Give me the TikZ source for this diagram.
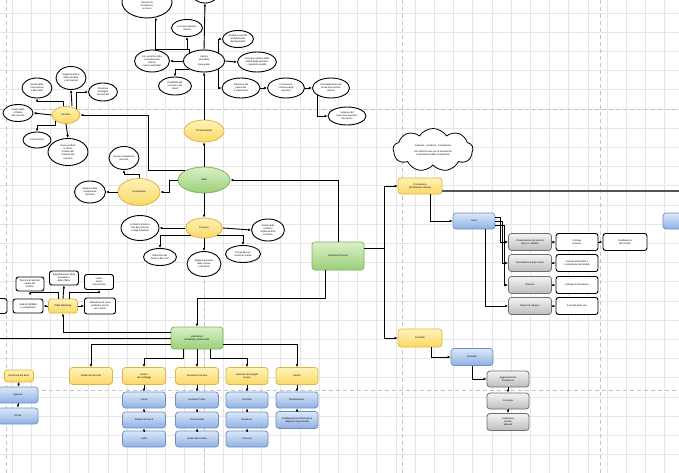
\documentclass[tikz,border=0pt]{standalone}
\usepackage{fontspec}
\setmainfont{Liberation Sans}
\usepackage{tikz}
\usetikzlibrary{shapes.geometric,shapes.symbols,arrows.meta}

\definecolor{ytop}{HTML}{FFF3B8}
\definecolor{ybot}{HTML}{FAD866}
\definecolor{yline}{HTML}{E0B443}
\definecolor{gtop}{HTML}{D9F0C8}
\definecolor{gbot}{HTML}{9BCF78}
\definecolor{gline}{HTML}{7DB35B}
\definecolor{btop}{HTML}{DCE8F8}
\definecolor{bbot}{HTML}{8EB0E3}
\definecolor{bline}{HTML}{6B8FC7}
\definecolor{stop}{HTML}{F4F4F4}
\definecolor{sbot}{HTML}{BDBDBD}
\definecolor{sline}{HTML}{6E6E6E}
\definecolor{gridc}{HTML}{E6E6E6}
\definecolor{pagec}{HTML}{C4C4C4}
\definecolor{barc}{HTML}{555555}

\tikzset{
  txt/.style={font=\fontsize{2.4}{3.1}\selectfont, align=center, inner sep=0pt},
  bubble/.style={txt, ellipse, draw, line width=0.9pt, fill=white},
  hub/.style={txt, ellipse, draw=yline, line width=0.8pt, top color=ytop, bottom color=ybot},
  core/.style={txt, ellipse, draw=gline, line width=0.8pt, top color=gtop, bottom color=gbot},
  ybox/.style={txt, rounded corners=3pt, draw=yline, line width=0.7pt, top color=ytop, bottom color=ybot, minimum width=43pt, minimum height=17pt},
  gbox/.style={txt, rounded corners=3pt, draw=gline, line width=0.7pt, top color=gtop, bottom color=gbot},
  bbox/.style={txt, rounded corners=3pt, draw=bline, line width=0.7pt, top color=btop, bottom color=bbot, minimum width=43pt, minimum height=16pt},
  sbox/.style={txt, rounded corners=3pt, draw=sline, line width=0.8pt, top color=stop, bottom color=sbot, minimum width=43pt, minimum height=17pt},
  wbox/.style={txt, rounded corners=2.5pt, draw, line width=0.9pt, fill=white, minimum width=42pt, minimum height=17pt},
  link/.style={line width=0.9pt, -{Latex[length=3pt,width=2.6pt]}},
  wire/.style={line width=0.9pt},
  gridline/.style={gridc, line width=0.5pt},
  pageline/.style={pagec, line width=0.8pt, dash pattern=on 4pt off 3pt}
}

\begin{document}
\begin{tikzpicture}[x=1pt,y=-1pt]

\useasboundingbox (0,0) rectangle (679,473);
\clip (0,0) rectangle (679,473);
\fill[white] (0,0) rectangle (679,473);

\foreach \gx in {11.8,31,...,679} \draw[gridline] (\gx,0) -- (\gx,473);
\foreach \gy in {12.8,32,...,473} \draw[gridline] (0,\gy) -- (679,\gy);

\foreach \px in {6,204,402,600} \draw[pageline] (\px,0) -- (\px,473);
\foreach \py in {109,390} \draw[pageline] (0,\py) -- (679,\py);



\node (sede) at (204,180) [core, minimum width=52pt, minimum height=26pt] {Sede};
\node (prof) at (204,131) [hub, minimum width=40pt, minimum height=22pt] {Professionalità};
\node (merc) at (66,115) [hub, minimum width=28pt, minimum height=17pt] {Mercato};
\node (comp) at (139,192) [hub, minimum width=42pt, minimum height=27pt] {Competenze};
\node (proc) at (204,228) [hub, minimum width=37pt, minimum height=20pt] {Processi};



\node (riun) at (147,2) [bubble, minimum width=50pt, minimum height=32pt] {};
\node (riunt) at (147,6) [txt] {Riunioni di\\formazione\\sul ruolo};
\node (vert) at (205,-8) [bubble, minimum width=28pt, minimum height=22pt] {};
\node (cult) at (204,61) [bubble, minimum width=41pt, minimum height=22pt] {Cultura\\aziendale\\[1.5pt]linee guida};
\node (prat) at (187,28) [bubble, minimum width=31pt, minimum height=17pt] {Le buone pratiche\\interne};
\node (comu) at (152,61) [bubble, minimum width=35pt, minimum height=22pt] {Uso pratiche nella\\comunicazione\\interna\\cultura aziendale};
\node (cred) at (175,86) [bubble, minimum width=33pt, minimum height=18pt] {Credibilità del\\mercato e dei\\clienti};
\node (qual) at (238,39) [bubble, minimum width=31pt, minimum height=17pt] {Qualità e crescita\\professionale\\dei dipendenti};
\node (cres) at (257,62) [bubble, minimum width=39pt, minimum height=20pt] {Crescita continua delle\\abilità degli operatori\\e gestione qualità};
\node (sele) at (241,88) [bubble, minimum width=38pt, minimum height=20pt] {Selezione del\\personale\\e valutazione};
\node (fcon) at (286,88) [bubble, minimum width=37pt, minimum height=20pt] {Formazione\\continua degli\\operatori};
\node (know) at (331,88) [bubble, minimum width=37pt, minimum height=20pt] {Consolidamento del\\know-how tecnico\\interno};
\node (spec) at (347,116) [bubble, minimum width=38pt, minimum height=18pt] {Sviluppo del\\know-how specifico\\dei servizi};



\node (conc) at (37,88) [bubble, minimum width=30pt, minimum height=20pt] {Analisi della\\concorrenza\\e dei prezzi};
\node (segm) at (71,78) [bubble, minimum width=30pt, minimum height=23pt] {Segmentazione\\della clientela\\e dei mercati};
\node (posi) at (103,92) [bubble, minimum width=29pt, minimum height=18pt] {Posizione\\strategica\\sul mercato};
\node (rich) at (18,113) [bubble, minimum width=30pt, minimum height=17pt] {Analisi della\\richiesta\\del mercato};
\node (cncr) at (37,140) [bubble, minimum width=28pt, minimum height=16pt] {Concorrenza};
\node (nuov) at (68,152) [bubble, minimum width=40pt, minimum height=27pt] {Nuovi prodotti\\e servizi\\in base alle\\richieste del\\mercato};

\node (ntec) at (124,158) [bubble, minimum width=30pt, minimum height=23pt] {Nuove competenze\\tecniche};
\node (svil) at (90,192) [bubble, minimum width=31pt, minimum height=22pt] {Sviluppo delle\\competenze\\del team};

\node (ctrl) at (140,228) [bubble, minimum width=38pt, minimum height=25pt] {Controllo di tutte le\\fasi dei processi\\e degli standard};
\node (crit) at (268,230) [bubble, minimum width=33pt, minimum height=22pt] {Analisi delle\\criticità e\\miglioramento\\continuo};
\node (ridu) at (160,257) [bubble, minimum width=33pt, minimum height=17pt] {Riduzione dei\\tempi e dei costi};
\node (riso) at (204,264) [bubble, minimum width=34pt, minimum height=25pt] {Migliore gestione\\delle risorse\\e dei flussi};
\node (serv) at (243,254) [bubble, minimum width=35pt, minimum height=17pt] {Più qualità nei\\servizi al cliente};



\node (gest) at (338,256) [gbox, minimum width=52pt, minimum height=28pt] {Gestione Processi};
\node (lab) at (197,338) [gbox, minimum width=52pt, minimum height=22pt] {Laboratorio\\Modelling commerciale};

\node (nota) at (433,150) [txt, cloud, draw, fill=white, line width=0.8pt, cloud puffs=9, cloud puff arc=115, aspect=1.9, minimum width=80pt, minimum height=43pt] {Gestione - Gestione - Formazione\\[3pt]Uso dell'Accesso per la formazione\\e valutazione delle competenze};

\node (form) at (420,186) [ybox, minimum width=44pt, minimum height=16pt] {Formazione\\(Produzione interna)};
\node (linee) at (474,221) [bbox, minimum width=42pt] {Linee};
\node (rblu) at (689,221) [bbox, minimum width=52pt] {};
\coordinate (frig) at (690,191);

\node (pia) at (530,242) [sbox] {Presentazione dei piani di\\lavoro e obiettivi};
\node (ppr) at (530,263) [sbox] {Presentazione di processo};
\node (riu) at (530,285) [sbox] {Riunioni};
\node (rep) at (530,306) [sbox] {Report di sviluppo};

\node (col) at (577,242) [wbox] {Colloqui\\di lavoro};
\node (inf) at (577,263) [wbox] {Colloqui informativi e\\condivisione dei risultati};
\node (cfo) at (577,285) [wbox] {Colloqui di formazione};
\node (voc) at (577,306) [wbox] {Il mondo delle voci};
\node (cnd) at (625,242) [wbox, minimum width=44pt] {Condivisione\\dei risultati};

\node (comi) at (420,338) [ybox, minimum width=44pt, minimum height=18pt] {Comitato};
\node (gior) at (472,357) [bbox, minimum width=42pt, minimum height=17pt] {Giornate};
\node (agg) at (508,379) [sbox, minimum width=42pt, minimum height=16pt] {Aggiornamento\\formazione};
\node (conv) at (508,401) [sbox, minimum width=42pt, minimum height=16pt] {Convegni};
\node (conf) at (508,422) [sbox, minimum width=42pt, minimum height=17pt] {Conferenze\\Riviste\\Manuali};



\node (pmo) at (63,306) [ybox, minimum width=29pt, minimum height=14pt] {PMO Marketing};
\node (pa) at (30,284) [wbox, minimum width=28pt, minimum height=14pt] {Ricerca di mercato\\analisi dei\\fornitori};
\node (pb) at (64,278) [wbox, minimum width=29pt, minimum height=14pt] {Segmentazione della\\domanda e\\delle offerte};
\node (pc) at (99,282) [wbox, minimum width=29pt, minimum height=15pt] {Listini\\prezzi\\concorrenza};
\node (pd) at (28,306) [wbox, minimum width=30pt, minimum height=14pt] {Studi di fattibilità\\e competitività};
\node (pe) at (100,306) [wbox, minimum width=31pt, minimum height=16pt] {Valutazione di nuovi\\prodotti e servizi\\per i clienti};
\node (px) at (-9,306) [wbox, minimum width=32pt, minimum height=15pt] {};
\coordinate (lout) at (-5,338);



\node (b0) at (19,376) [ybox, minimum width=29pt, minimum height=12pt] {Revisione dei flussi};
\node (b1) at (91,376) [ybox] {Analisi del mercato};
\node (b2) at (144,376) [ybox] {Analisi\\dei sondaggi};
\node (b3) at (197,376) [ybox] {Assistenza Tecnica};
\node (b4) at (247,376) [ybox, minimum width=42pt] {Gestione dei progetti\\tecnici};
\node (b5) at (297,376) [ybox, minimum width=42pt] {Servizi};

\node (b0a) at (18,395) [bbox, minimum width=40pt] {Ingresso};
\node (b0b) at (18,416) [bbox, minimum width=40pt] {Uscita};
\node (b2a) at (144,400) [bbox] {Clienti};
\node (b2b) at (144,420) [bbox] {Sistemi di ricerca};
\node (b2c) at (144,439) [bbox] {Audit};
\node (b3a) at (197,400) [bbox] {Gestione Ticket};
\node (b3b) at (197,420) [bbox] {Punti vendita};
\node (b3c) at (197,439) [bbox] {Analisi dei reclami};
\node (b4a) at (247,400) [bbox, minimum width=42pt] {Controllo};
\node (b4b) at (247,420) [bbox, minimum width=42pt] {Revisione};
\node (b4c) at (247,439) [bbox, minimum width=42pt] {Processi};
\node (b5a) at (297,400) [bbox, minimum width=42pt] {Manutenzione};
\node (b5b) at (297,420) [bbox, minimum width=42pt, minimum height=17pt] {Configurazione infrastrutture\\Supporto al personale};



\draw[link] (cult.north west) -- ++(0,-3) -| (riun.-60);
\draw[link] (cult.north west) -- ++(0,-3) -| (prat.south);
\draw[link] (cult.north) -- (vert.south);
\draw[link] (cult.west) -- (comu.east);
\draw[link] (cult.south west) -| (cred.north);
\draw[link] (cult.north east) |- (qual.west);
\draw[link] (cult.east) -- (cres.west);
\draw[link] (cult.south east) |- (sele.west);
\draw[link] (sele.east) -- (fcon.west);
\draw[link] (fcon.east) -- (know.west);
\draw[link] (know.south west) |- (spec.west);

\draw[link] (prof.north) -- (cult.south);
\draw[link] (sede.north) -- (prof.south);

\draw[link] (sede.155) -- ++(-36,0) |- (merc.east);
\draw[link] ([xshift=-3pt]merc.north) -- ++(0,-5) -| (conc.south);
\draw[link] ([xshift=6pt]merc.north) -- (segm.south);
\draw[link] (merc.north east) -- ++(0,-9) |- (posi.west);
\draw[link] (merc.west) -- (rich.east);
\draw[link] (merc.south west) -- ++(0,4) -| (cncr.north);
\draw[link] (merc.south) -- (nuov.north);

\draw[link] (sede.west) -- ++(-8,0) |- (comp.east);
\draw[link] (comp.north) -- ++(0,-4) -| (ntec.south);
\draw[link] (comp.west) -- (svil.east);

\draw[link] (sede.south) -- (proc.north);
\draw[link] (proc.west) -- (ctrl.east);
\draw[link] (proc.east) -- (crit.west);
\draw[link] (proc.south west) -| (ridu.north);
\draw[link] (proc.south) -- (riso.north);
\draw[link] (proc.south east) -| (serv.north);



\draw[link] (gest.north) |- (sede.east);
\draw[link] (gest.15) -- ++(20,0) |- (form.west);
\draw[link] (gest.15) -- ++(20,0) |- (comi.west);
\draw[link] ([xshift=-13pt]gest.south) -- ++(0,28) -| (lab.north);

\draw[line width=2.2pt, barc] ([yshift=-5pt]form.east) -- (frig);
\draw[link] ([xshift=10pt]form.south) |- (linee.west);
\draw[link] ([yshift=4pt]linee.east) -- ++(5,0) |- (pia.west);
\draw[link] (linee.east) -- ++(7,0) |- (ppr.west);
\draw[link] ([yshift=-4pt]linee.east) -- ++(9,0) |- (riu.west);
\draw[link] ([xshift=11pt]linee.south) |- (rep.west);
\draw[link] (pia.east) -- (col.west);
\draw[link] (col.east) -- (cnd.west);
\draw[link] (ppr.east) -- (inf.west);
\draw[link] (riu.east) -- (cfo.west);
\draw[link] (rep.east) -- (voc.west);

\draw[link] ([xshift=11pt]comi.south) |- (gior.west);
\draw[link] (gior.south) |- (agg.west);
\draw[link] (agg.south) -- (conv.north);
\draw[link] (conv.south) -- (conf.north);



\draw[link] ([yshift=6pt]lab.west) -| (pmo.south);
\draw[wire] (lab.west) -- (lout);
\draw[link] ([xshift=-5pt]pmo.north) -- ++(0,-6) -| (pa.south);
\draw[link] (pmo.north) -- (pb.south);
\draw[link] ([xshift=6pt]pmo.north) -- ++(0,-6) -| (pc.south);
\draw[link] (pmo.west) -- (pd.east);
\draw[link] (pmo.east) -- (pe.west);

\draw[link] ([yshift=-6pt]lab.west) -| (b1.north);
\draw[link] ([xshift=-14pt]lab.south) -- ++(0,9) -| (b2.north);
\draw[link] (lab.south) -- (b3.north);
\draw[link] ([xshift=13pt]lab.south) -- ++(0,9) -| (b4.north);
\draw[link] ([yshift=-6pt]lab.east) -| (b5.north);

\draw[link] (b0.south) -- (b0a.north);
\draw[link] (b0a.south) -- (b0b.north);
\draw[link] (b2.south) -- (b2a.north);
\draw[link] (b2b.north) -- (b2a.south);
\draw[link] (b2c.north) -- (b2b.south);
\draw[link] (b3.south) -- (b3a.north);
\draw[link] (b3b.north) -- (b3a.south);
\draw[link] (b3c.north) -- (b3b.south);
\draw[link] (b4.south) -- (b4a.north);
\draw[link] (b4b.north) -- (b4a.south);
\draw[link] (b4c.north) -- (b4b.south);
\draw[link] (b5.south) -- (b5a.north);
\draw[link] (b5b.north) -- (b5a.south);

\end{tikzpicture}
\end{document}
